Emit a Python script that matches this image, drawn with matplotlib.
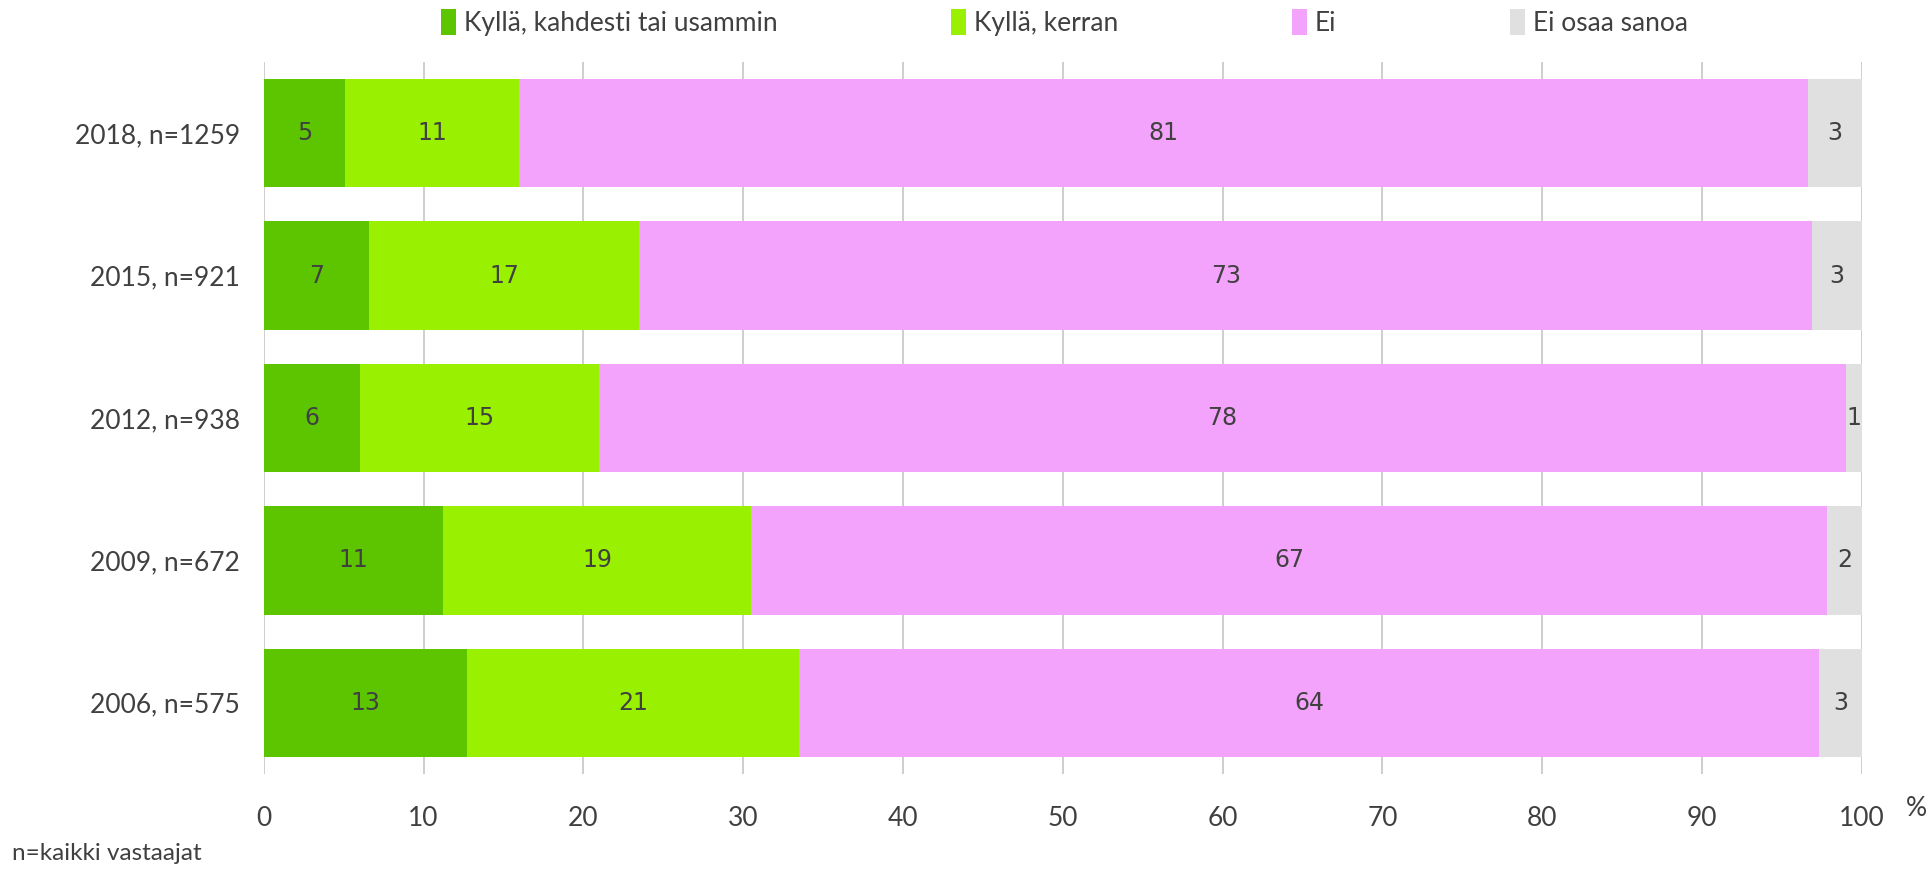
import numpy as np
import matplotlib.pyplot as plt
from matplotlib.patches import Patch

# Data (percent), top row first
years = ["2018, n=1259", "2015, n=921", "2012, n=938", "2009, n=672", "2006, n=575"]
series = ["Kyllä, kahdesti tai usammin", "Kyllä, kerran", "Ei", "Ei osaa sanoa"]
kahdesti = [5.1, 6.6, 6.0, 11.2, 12.7]
kerran = [10.9, 16.9, 15.0, 19.3, 20.8]
ei = [80.6, 73.4, 78.0, 67.3, 63.8]
eos = [3.4, 3.1, 1.0, 2.2, 2.7]
colors = ["#5cc500", "#99f000", "#f4a3fc", "#e0e0e0"]

plt.rcParams['font.family'] = ['Lato', 'DejaVu Sans']
text_col = "#404040"

fig = plt.figure(figsize=(19.32, 8.72), dpi=100)
ax = fig.add_axes([0.1365, 0.1124, 0.8272, 0.8165])

y = np.arange(len(years))
left = np.zeros(len(years))
for vals, col in zip([kahdesti, kerran, ei, eos], colors):
    vals = np.array(vals)
    ax.barh(y, vals, left=left, height=0.76, color=col, zorder=2)
    for yi, l, v in zip(y, left, vals):
        ax.text(l + v / 2, yi, f"{v:.0f}", ha='center', va='center',
                fontsize=17, color=text_col, family='DejaVu Sans', zorder=3)
    left += vals

ax.set_xlim(0, 100)
ax.set_ylim(len(years) - 0.5, -0.5)
ax.set_xticks(np.arange(0, 101, 10))
ax.set_yticks(y)
ax.set_yticklabels(years)
ax.tick_params(length=0, labelsize=19, colors=text_col)
ax.tick_params(axis='x', pad=23)
ax.tick_params(axis='y', pad=17)
ax.grid(axis='x', color='#c6c6c6', lw=1.2, zorder=0)
for s in ax.spines.values():
    s.set_visible(False)

fig.text(0.992, 0.064, "%", fontsize=19, color=text_col, ha='center', va='baseline')
fig.text(0.006, 0.009, "n=kaikki vastaajat", fontsize=17.5, color=text_col, ha='left', va='bottom')

handles = [Patch(facecolor=c) for c in colors]
fig.legend(handles, series, loc='center', bbox_to_anchor=(0.551, 0.974), ncol=4,
           frameon=False, fontsize=19, handlelength=0.55, handleheight=1.1,
           handletextpad=0.3, columnspacing=6.6, labelcolor=text_col)

fig.savefig("out.png", dpi=100)
